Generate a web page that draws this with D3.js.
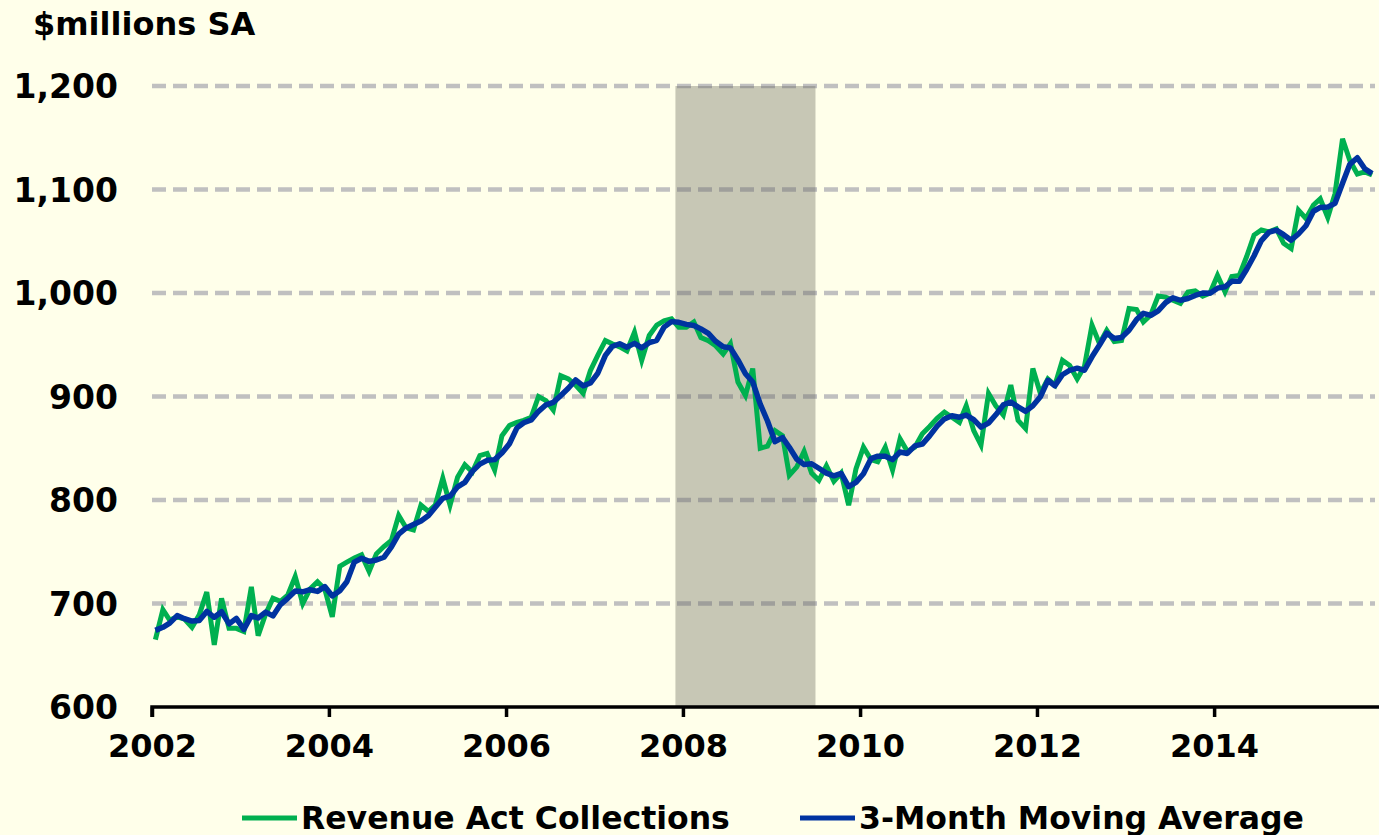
<!DOCTYPE html>
<html lang="en">
<head>
    <meta charset="UTF-8">
    <title>Revenue Act Collections</title>
    <script src="https://cdn.jsdelivr.net/npm/d3@7"></script>
    <style>
        body{
            margin: 0;
            background: #ffffea;
        }
        svg text{
            font-family: Verdana, "DejaVu Sans", sans-serif;
            font-weight: bold;
            fill: #000;
        }
    </style>
</head>
<body>

<svg id="chart" width="1379" height="835"></svg>

<script>
    // monthly collections, $millions SA, Jan 2002 .. Oct 2015
    let collections = [
        665, 694, 684, 687, 685, 677, 689, 711, 660, 705, 676, 676,
        673, 716, 669, 690, 705, 702, 708, 726, 700, 714, 721, 714,
        687, 736, 740, 744, 747, 731, 748, 755, 761, 785, 773, 771,
        795, 789, 795, 821, 795, 822, 834, 827, 843, 845, 829, 862,
        872, 875, 877, 880, 900, 896, 887, 920, 917, 911, 903, 925,
        940, 954, 951, 948, 944, 962, 935, 959, 969, 973, 975, 967,
        967, 972, 957, 954, 949, 941, 951, 914, 901, 927, 850, 852,
        867, 862, 824, 832, 847, 826, 819, 833, 818, 826, 795, 830,
        851, 839, 837, 851, 829, 859, 847, 851, 864, 871, 879, 885,
        880, 875, 891, 867, 853, 903, 891, 882, 911, 877, 869, 927,
        903, 917, 911, 935, 930, 917, 929, 969, 951, 964, 953, 954,
        985, 984, 972, 979, 997, 996, 993, 990, 1001, 1002, 997, 1000,
        1017, 1001, 1016, 1017, 1035, 1056, 1061, 1059, 1062, 1048, 1043, 1080,
        1072, 1085, 1091, 1073, 1096, 1149, 1128, 1115, 1117, 1114
    ]
    // moving average for Jan and Feb 2002 (needs 2001 months not shown)
    let avgLead = [674, 677]

    let yTicks = [600, 700, 800, 900, 1000, 1100, 1200]
    let xTickYears = [2002, 2004, 2006, 2008, 2010, 2012, 2014]
    let recession = [new Date(2007, 11, 1), new Date(2009, 6, 1)]

    let seriesNames = ["Revenue Act Collections", "3-Month Moving Average"]
    let seriesColors = ["#00b050", "#0033a0"]

    let data = collections.map(function (v, i) {
        let avg = i < 2 ? avgLead[i] : d3.mean(collections.slice(i - 2, i + 1))
        return {date: new Date(2002, i, 15), value: v, avg: avg}
    })

    let svg = d3.select("#chart")

    let x = d3.scaleTime()
        .domain([new Date(2002, 0, 1), new Date(2016, 0, 1)])
        .range([152, 1391])

    let y = d3.scaleLinear()
        .domain([600, 1200])
        .range([707, 86])

    let plotRight = 1375

    // title
    svg.append("text")
        .attr("x", 33)
        .attr("y", 35)
        .style("font-size", "32px")
        .text("$millions SA")

    // dashed grid lines
    svg.append("g")
        .selectAll("line")
        .data(yTicks.slice(1))
        .enter()
        .append("line")
        .attr("x1", x(new Date(2002, 0, 1)))
        .attr("x2", plotRight)
        .attr("y1", function (d) { return y(d) })
        .attr("y2", function (d) { return y(d) })
        .attr("stroke", "#c0c0c0")
        .attr("stroke-width", 4.5)
        .attr("stroke-dasharray", "14,7")

    // recession band
    svg.append("rect")
        .attr("x", x(recession[0]))
        .attr("width", x(recession[1]) - x(recession[0]))
        .attr("y", y(1200))
        .attr("height", y(600) - y(1200))
        .attr("fill", "rgba(100,100,90,0.36)")

    // y labels
    svg.append("g")
        .selectAll("text")
        .data(yTicks)
        .enter()
        .append("text")
        .attr("x", 118)
        .attr("y", function (d) { return y(d) + 12 })
        .attr("text-anchor", "end")
        .style("font-size", "33px")
        .text(function (d) { return d3.format(",")(d) })

    // x axis
    let xAxis = d3.axisBottom(x)
        .tickValues(xTickYears.map(function (d) { return new Date(d, 0, 1) }))
        .tickFormat(d3.timeFormat("%Y"))
        .tickSize(10)
        .tickPadding(17)

    let gx = svg.append("g")
        .attr("transform", "translate(0," + y(600) + ")")
        .call(xAxis)
    gx.select(".domain")
        .attr("d", "M" + x(new Date(2002, 0, 1)) + ",10V0H1379")
        .attr("stroke", "#000")
        .attr("stroke-width", 3.5)
    gx.selectAll(".tick line")
        .attr("stroke", "#000")
        .attr("stroke-width", 3.5)
    gx.selectAll(".tick text")
        .style("font-size", "32px")
        .attr("font-family", null)

    // lines
    let lineValue = d3.line()
        .x(function (d) { return x(d.date) })
        .y(function (d) { return y(d.value) })

    let lineAvg = d3.line()
        .x(function (d) { return x(d.date) })
        .y(function (d) { return y(d.avg) })

    svg.append("path")
        .datum(data)
        .attr("d", lineValue)
        .attr("fill", "none")
        .attr("stroke", seriesColors[0])
        .attr("stroke-width", 5)
        .attr("stroke-linejoin", "miter")

    svg.append("path")
        .datum(data)
        .attr("d", lineAvg)
        .attr("fill", "none")
        .attr("stroke", seriesColors[1])
        .attr("stroke-width", 5.5)
        .attr("stroke-linejoin", "round")

    // legend
    let legendX = [242, 800]
    let legend = svg.append("g")
        .selectAll("g")
        .data(seriesNames)
        .enter()
        .append("g")
        .attr("transform", function (d, i) { return "translate(" + legendX[i] + ",818)" })

    legend.append("line")
        .attr("x1", 0)
        .attr("x2", 55)
        .attr("stroke", function (d, i) { return seriesColors[i] })
        .attr("stroke-width", 5)

    legend.append("text")
        .attr("x", 59)
        .attr("y", 11)
        .style("font-size", "31.5px")
        .text(function (d) { return d })
</script>

</body>
</html>
